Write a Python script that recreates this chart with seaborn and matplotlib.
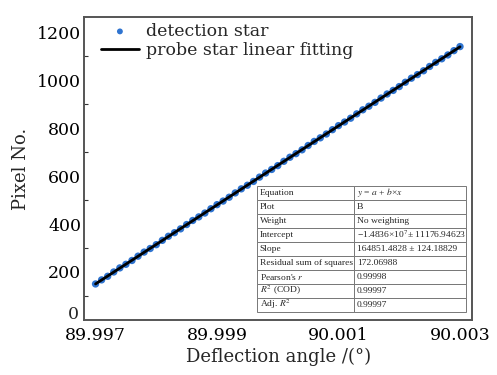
import numpy as np
import pandas as pd
import matplotlib
matplotlib.use("Agg")
import matplotlib.pyplot as plt
from matplotlib.ticker import MultipleLocator, FuncFormatter
import seaborn as sns

# Measured deflection angles (deg) and detected star pixel positions
angles = [89.9970, 89.9971, 89.9972, 89.9973, 89.9974, 89.9975, 89.9976, 89.9977,
          89.9978, 89.9979, 89.9980, 89.9981, 89.9982, 89.9983, 89.9984, 89.9985,
          89.9986, 89.9987, 89.9988, 89.9989, 89.9990, 89.9991, 89.9992, 89.9993,
          89.9994, 89.9995, 89.9996, 89.9997, 89.9998, 89.9999, 90.0000, 90.0001,
          90.0002, 90.0003, 90.0004, 90.0005, 90.0006, 90.0007, 90.0008, 90.0009,
          90.0010, 90.0011, 90.0012, 90.0013, 90.0014, 90.0015, 90.0016, 90.0017,
          90.0018, 90.0019, 90.0020, 90.0021, 90.0022, 90.0023, 90.0024, 90.0025,
          90.0026, 90.0027, 90.0028, 90.0029, 90.0030]
pixels = [150, 167, 182, 200, 217, 232, 248, 266, 283, 298, 314, 332, 349, 364,
          380, 398, 415, 430, 446, 464, 481, 496, 512, 530, 547, 562, 578, 596,
          613, 628, 644, 662, 679, 694, 710, 728, 745, 760, 776, 794, 811, 826,
          842, 860, 877, 892, 908, 926, 943, 958, 974, 992, 1009, 1024, 1040,
          1058, 1075, 1090, 1106, 1124, 1141]

xtick_vals = [89.997, 89.999, 90.001, 90.003]
xtick_labels = ["89.997", "89.999", "90.001", "90.003"]

fit_rows = ["Equation", "Plot", "Weight", "Intercept", "Slope",
            "Residual sum of squares", "Pearson's $r$", "$R^2$ (COD)", "Adj. $R^2$"]
fit_values = ["$y$ = $a$ + $b$\u00d7$x$", "B", "No weighting",
              "\u22121.4836\u00d710$^7$\u00b1 11176.94623",
              "164851.4828 \u00b1 124.18829", "172.06988", "0.99998",
              "0.99997", "0.99997"]

sns.set_style("white")
plt.rcParams["font.family"] = ["DejaVu Serif"]
plt.rcParams["mathtext.fontset"] = "stix"

df = pd.DataFrame({"angle": angles, "pixel": pixels})
coef = np.polyfit(df["angle"] - 90.0, df["pixel"], 1)
df["fit"] = np.polyval(coef, df["angle"] - 90.0)

fig = plt.figure(figsize=(4.97, 3.75), dpi=100)
ax = fig.add_axes([0.169, 0.147, 0.781, 0.808])

sns.scatterplot(data=df, x="angle", y="pixel", ax=ax, color="#2f74d0",
                s=28, edgecolor="none", label="detection star", zorder=2)
sns.lineplot(data=df, x="angle", y="fit", ax=ax, color="black", lw=2.0,
             label="probe star linear fitting", zorder=3)

ax.set_xlim(89.99681, 90.0032)
ax.set_ylim(0, 1265)
ax.set_xticks(xtick_vals)
ax.set_xticklabels(xtick_labels)
ax.yaxis.set_major_locator(MultipleLocator(200))
ax.yaxis.set_minor_locator(MultipleLocator(100))
# the zero label is placed separately, slightly raised above the corner
ax.yaxis.set_major_formatter(FuncFormatter(lambda v, p: "" if v == 0 else f"{v:.0f}"))
ax.tick_params(axis="both", which="major", direction="in", length=5, width=1,
               labelsize=12.5, colors="#333333", labelcolor="black", pad=2)
ax.tick_params(axis="x", which="major", pad=5)
ax.tick_params(axis="y", which="minor", direction="in", length=3, width=0.8,
               colors="#333333", left=True)
for sp in ax.spines.values():
    sp.set_color("#555555")
    sp.set_linewidth(1.4)

ax.annotate("0", xy=(0, 0), xycoords="axes fraction", xytext=(-3.5, 4),
            textcoords="offset points", ha="right", va="center", fontsize=12.5)

ax.set_xlabel("Deflection angle /(\u00b0)", fontsize=13, labelpad=3)
ax.set_ylabel("Pixel No.", fontsize=13, labelpad=5)

leg = ax.legend(loc="upper left", bbox_to_anchor=(0.012, 1.02), frameon=False,
                fontsize=12.5, handlelength=2.2, handletextpad=0.4,
                labelspacing=0.1, borderaxespad=0.3, markerscale=0.8)

cells = [[a, b] for a, b in zip(fit_rows, fit_values)]
tbl = ax.table(cellText=cells, cellLoc="left", colWidths=[0.464, 0.536],
               bbox=[0.446, 0.027, 0.539, 0.416], zorder=5)
tbl.auto_set_font_size(False)
tbl.set_fontsize(6.8)
for (r, c), cell in tbl.get_celld().items():
    cell.set_edgecolor("#777777")
    cell.set_linewidth(0.7)
    cell.set_facecolor("white")
    cell.PAD = 0.025
    cell.get_text().set_fontfamily(["Liberation Serif", "DejaVu Serif"])

fig.savefig("out.png", dpi=100)
